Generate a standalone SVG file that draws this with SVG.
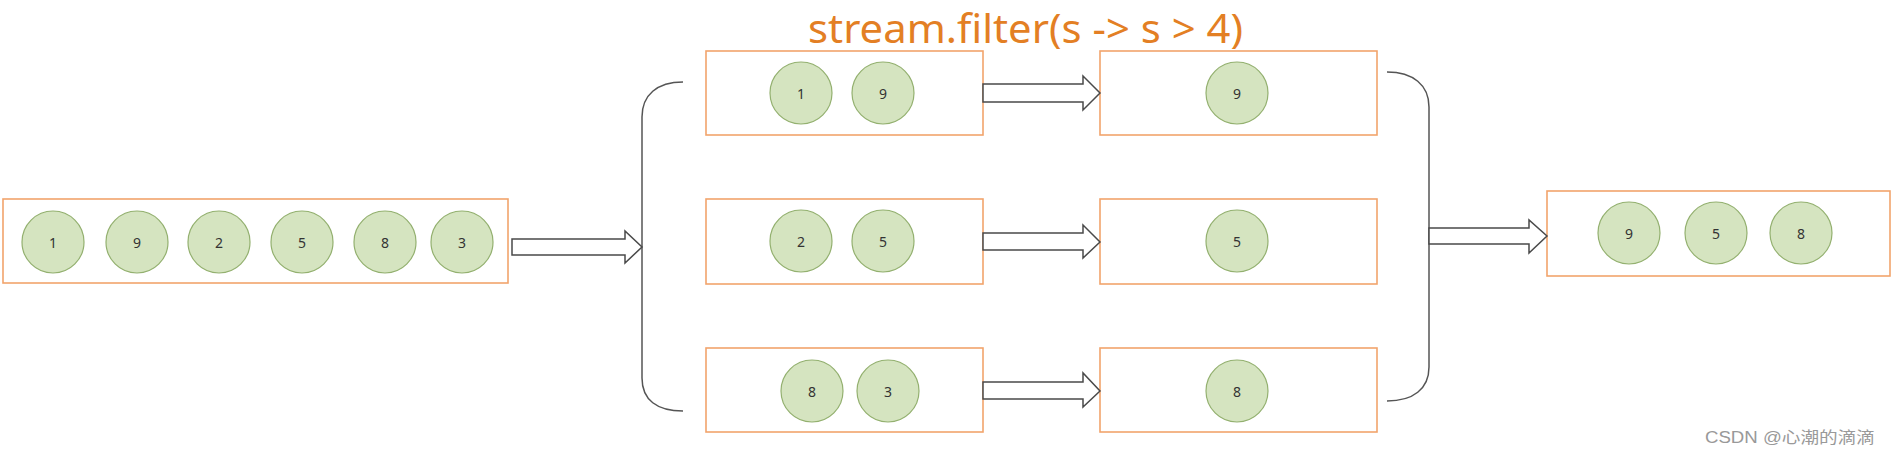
<svg xmlns="http://www.w3.org/2000/svg" width="1891" height="453" viewBox="0 0 1891 453">
<style>
.box{fill:#fff;stroke:#F2A46C;stroke-width:1.6}
.c{fill:#D5E4C0;stroke:#93B06F;stroke-width:1.2}
.n{font-family:"Noto Sans","Liberation Sans",sans-serif;font-size:14px;fill:#333;text-anchor:middle;dominant-baseline:central}
.arr{fill:#fff;stroke:#4a4a4a;stroke-width:1.5;stroke-linejoin:miter}
.br{fill:none;stroke:#555;stroke-width:1.5}
</style>
<rect width="1891" height="453" fill="#fff"/>
<text x="808" y="43" font-family="Noto Sans, Liberation Sans, sans-serif" font-size="40" fill="#E37F24" textLength="435" lengthAdjust="spacingAndGlyphs">stream.filter(s -&gt; s &gt; 4)</text>

<g id="input">
<rect class="box" x="3" y="199" width="505" height="84"/>
<circle class="c" cx="53" cy="242" r="31"/><text class="n" x="53" y="242">1</text>
<circle class="c" cx="137" cy="242" r="31"/><text class="n" x="137" y="242">9</text>
<circle class="c" cx="219" cy="242" r="31"/><text class="n" x="219" y="242">2</text>
<circle class="c" cx="302" cy="242" r="31"/><text class="n" x="302" y="242">5</text>
<circle class="c" cx="385" cy="242" r="31"/><text class="n" x="385" y="242">8</text>
<circle class="c" cx="462" cy="242" r="31"/><text class="n" x="462" y="242">3</text>
</g>

<g id="split1">
<rect class="box" x="706" y="51" width="277" height="84"/>
<circle class="c" cx="801" cy="93" r="31"/><text class="n" x="801" y="93">1</text>
<circle class="c" cx="883" cy="93" r="31"/><text class="n" x="883" y="93">9</text>
</g>
<g id="split2">
<rect class="box" x="706" y="199" width="277" height="85"/>
<circle class="c" cx="801" cy="241" r="31"/><text class="n" x="801" y="241">2</text>
<circle class="c" cx="883" cy="241" r="31"/><text class="n" x="883" y="241">5</text>
</g>
<g id="split3">
<rect class="box" x="706" y="348" width="277" height="84"/>
<circle class="c" cx="812" cy="391" r="31"/><text class="n" x="812" y="391">8</text>
<circle class="c" cx="888" cy="391" r="31"/><text class="n" x="888" y="391">3</text>
</g>

<g id="filtered1">
<rect class="box" x="1100" y="51" width="277" height="84"/>
<circle class="c" cx="1237" cy="93" r="31"/><text class="n" x="1237" y="93">9</text>
</g>
<g id="filtered2">
<rect class="box" x="1100" y="199" width="277" height="85"/>
<circle class="c" cx="1237" cy="241" r="31"/><text class="n" x="1237" y="241">5</text>
</g>
<g id="filtered3">
<rect class="box" x="1100" y="348" width="277" height="84"/>
<circle class="c" cx="1237" cy="391" r="31"/><text class="n" x="1237" y="391">8</text>
</g>

<g id="output">
<rect class="box" x="1547" y="191" width="343" height="85"/>
<circle class="c" cx="1629" cy="233" r="31"/><text class="n" x="1629" y="233">9</text>
<circle class="c" cx="1716" cy="233" r="31"/><text class="n" x="1716" y="233">5</text>
<circle class="c" cx="1801" cy="233" r="31"/><text class="n" x="1801" y="233">8</text>
</g>

<g id="connectors">
<path class="br" d="M683,82 C657,82 642,95 642,117 L642,378 C642,400 657,411 683,411"/>
<path class="br" d="M1387,72 C1413,72 1429,85 1429,107 L1429,367 C1429,389 1413,401 1387,401"/>
<path class="arr" d="M512,239 L625,239 L625,231 L642,247 L625,263 L625,255 L512,255 Z"/>
<path class="arr" d="M983,84 L1083,84 L1083,76 L1100,93 L1083,110 L1083,102 L983,102 Z"/>
<path class="arr" d="M983,233 L1083,233 L1083,225 L1100,242 L1083,258 L1083,250 L983,250 Z"/>
<path class="arr" d="M983,382 L1083,382 L1083,373 L1100,391 L1083,407 L1083,399 L983,399 Z"/>
<path class="arr" d="M1429,228 L1529,228 L1529,220 L1547,236 L1529,253 L1529,244 L1429,244 Z"/>
</g>

<text x="1705" y="443" font-family="Liberation Sans, Noto Sans CJK SC, sans-serif" font-size="16" fill="#999" textLength="170" lengthAdjust="spacingAndGlyphs">CSDN @心潮的滴滴</text>
</svg>
